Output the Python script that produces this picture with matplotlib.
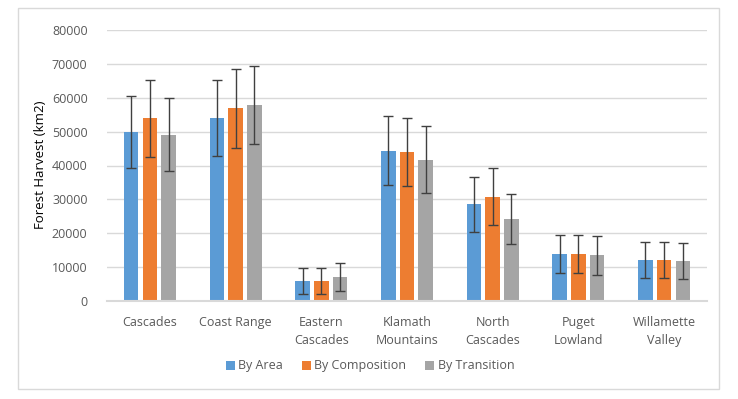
import numpy as np
import matplotlib.pyplot as plt
from matplotlib.patches import Rectangle

plt.rcParams['font.family'] = ['Open Sans', 'DejaVu Sans']

regions = ["Cascades", "Coast Range", "Eastern\nCascades", "Klamath\nMountains",
           "North\nCascades", "Puget\nLowland", "Willamette\nValley"]
series = ["By Area", "By Composition", "By Transition"]
colors = ["#5B9BD5", "#ED7D31", "#A5A5A5"]

by_area = [49900, 54000, 6000, 44400, 28600, 13900, 12150]
by_composition = [53900, 56900, 6000, 43900, 30800, 13900, 12050]
by_transition = [49100, 57800, 7100, 41700, 24100, 13450, 11750]

err_area = [10500, 11300, 3850, 10200, 8100, 5700, 5400]
err_composition = [11300, 11600, 3800, 10000, 8500, 5700, 5350]
err_transition = [10700, 11500, 4150, 9900, 7400, 5700, 5250]

values = [by_area, by_composition, by_transition]
errors = [err_area, err_composition, err_transition]

fig = plt.figure(figsize=(7.38, 3.99), dpi=100)
ax = fig.add_axes([107 / 738, 1 - 301 / 399, 600 / 738, 271 / 399])

# outer chart border
fig.patches.append(Rectangle((18 / 738, 1 - 389 / 399), 701 / 738, 381 / 399,
                             transform=fig.transFigure, fill=False,
                             edgecolor="#D9D9D9", linewidth=1))

x = np.arange(len(regions))
width = 0.17
step = 0.218
for i, (vals, errs) in enumerate(zip(values, errors)):
    ax.bar(x + (i - 1) * step, vals, width, color=colors[i], label=series[i], zorder=2,
           yerr=errs, error_kw=dict(ecolor="#404040", elinewidth=1, capsize=3.5, capthick=1))

ax.set_xlim(-0.5, len(regions) - 0.5)
ax.set_ylim(0, 80000)
ax.set_yticks(np.arange(0, 80001, 10000))
ax.set_xticks(x)
ax.set_xticklabels(regions, fontsize=9, color="#595959", linespacing=1.5)
ax.tick_params(axis="y", labelsize=9, labelcolor="#595959", length=0, pad=14)
ax.tick_params(axis="x", length=0, pad=11)
ax.grid(axis="y", color="#D9D9D9", linewidth=1, zorder=0)
ax.set_axisbelow(True)
for side in ["top", "right", "left"]:
    ax.spines[side].set_visible(False)
ax.spines["bottom"].set_color("#D9D9D9")
ax.spines["bottom"].set_linewidth(1.5)

fig.text(40 / 738, 1 - 165 / 399, "Forest Harvest (km2)", rotation=90,
         ha="center", va="center", fontsize=9.5, color="#000000")

fig.legend(loc="center", bbox_to_anchor=(370 / 738, 1 - 366 / 399), ncol=3,
           frameon=False, fontsize=9, handlelength=0.7, handleheight=0.7,
           handletextpad=0.3, columnspacing=1.5, labelcolor="#595959")

fig.savefig("out.png", dpi=100)
